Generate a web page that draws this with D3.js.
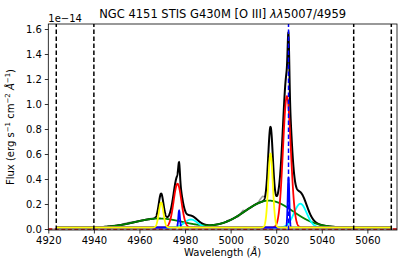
<!DOCTYPE html>
<html>
<head>
<meta charset="utf-8">
<script src="https://cdn.jsdelivr.net/npm/d3@7"></script>
<style>
  body { margin: 0; background: #fff; }
  text { font-family: "DejaVu Sans", sans-serif; fill: #000; }
</style>
</head>
<body>
<div id="chart"></div>
<script>
// fit window and axis ticks
var xTicks = [4920, 4940, 4960, 4980, 5000, 5020, 5040, 5060],
    yTicks = [0, 0.2, 0.4, 0.6, 0.8, 1.0, 1.2, 1.4, 1.6],
    fitRange = [4923.5, 5070.5],
    windowLines = [4923.5, 4940, 5054, 5070.5],
    peakLine = 5025.4,
    continuum = 0.012;

// gaussian components (centre, amplitude in 1e-14, sigma in A)
// drawn in this order, yellow ends on top
var compNames   = ['green', 'cyan', 'red', 'blue', 'yellow'];
var compColors  = ['#008000', '#00ffff', '#ff0000', '#0000ff', '#ffff00'];
var center5007  = [5016.8, 5030.6, 5024.7, 5025.4, 5017.5];
var amp5007     = [0.215, 0.19, 1.05, 0.40, 0.59];
var center4959  = [4968.6, 4982.6, 4976.7, 4977.4, 4969.5];
var amp4959     = [0.072, 0.064, 0.35, 0.135, 0.20];
var sigmas      = [10.5, 2.8, 1.7, 0.35, 1.0];

// visible bits of the observed spectrum (grey), null = hidden under model
var dataWave = [4946, 4948, 4950, 4952, 4954, 4956, 4958, 4960, 4962, 4964, 4965.5, null,
                4998, 5000, 5002, 5003.5, 5004.5, 5005.5, 5006.5, 5007.5, 5009, 5010.5, 5012, 5013, 5014, 5015];
var dataFlux = [0.022, 0.027, 0.031, 0.036, 0.046, 0.055, 0.060, 0.067, 0.073, 0.080, 0.086, null,
                0.064, 0.075, 0.090, 0.100, 0.128, 0.150, 0.146, 0.162, 0.172, 0.195, 0.210, 0.238, 0.262, 0.258];

var width = 407, height = 271,
    margin = {top: 24, right: 10, bottom: 41, left: 48.3};

var svg = d3.select('#chart').append('svg')
    .attr('width', width)
    .attr('height', height);

var x = d3.scaleLinear().domain([4920, 5073]).range([margin.left, width - margin.right]);
var y = d3.scaleLinear().domain([-0.008, 1.64]).range([height - margin.bottom, margin.top]);

svg.append('clipPath').attr('id', 'clip')
    .append('rect')
    .attr('x', x.range()[0]).attr('y', y.range()[1])
    .attr('width', x.range()[1] - x.range()[0])
    .attr('height', y.range()[0] - y.range()[1]);

var plot = svg.append('g').attr('clip-path', 'url(#clip)');

function gauss(w, c, a, s) {
    return a * Math.exp(-(w - c) * (w - c) / (2 * s * s));
}

var grid = d3.range(fitRange[0], fitRange[1] + 0.001, 0.05);

function compValue(i, w) {
    return continuum + gauss(w, center5007[i], amp5007[i], sigmas[i]) + gauss(w, center4959[i], amp4959[i], sigmas[i]);
}
function totalValue(w) {
    var t = continuum;
    compNames.forEach(function (n, i) {
        t += gauss(w, center5007[i], amp5007[i], sigmas[i]) + gauss(w, center4959[i], amp4959[i], sigmas[i]);
    });
    return t;
}

var line = d3.line()
    .x(function (d) { return x(d[0]); })
    .y(function (d) { return y(d[1]); });

// zero line
plot.append('line')
    .attr('x1', x.range()[0]).attr('x2', x.range()[1])
    .attr('y1', y(0)).attr('y2', y(0))
    .style('stroke', '#aaaaaa').style('stroke-width', 1.5);
plot.append('line')
    .attr('x1', x.range()[0]).attr('x2', x.range()[1])
    .attr('y1', y(0)).attr('y2', y(0))
    .style('stroke', '#cc0000').style('stroke-width', 1.5)
    .style('stroke-dasharray', '4,2.5');

// observed data
var dataPts = dataWave.map(function (w, i) { return [w, dataFlux[i]]; });
plot.append('path')
    .datum(dataPts)
    .attr('d', d3.line()
        .defined(function (d) { return d[0] !== null; })
        .x(function (d) { return x(d[0]); })
        .y(function (d) { return y(d[1]); }))
    .style('fill', 'none')
    .style('stroke', '#a0a0a0')
    .style('stroke-width', 1.5);

// total model
plot.append('path')
    .datum(grid.map(function (w) { return [w, totalValue(w)]; }))
    .attr('d', line)
    .style('fill', 'none')
    .style('stroke', '#000')
    .style('stroke-width', 2);

// components
compNames.forEach(function (n, i) {
    plot.append('path')
        .datum(grid.map(function (w) { return [w, compValue(i, w)]; }))
        .attr('class', 'comp ' + n)
        .attr('d', line)
        .style('fill', 'none')
        .style('stroke', compColors[i])
        .style('stroke-width', 1.8);
});

// fit window markers
plot.selectAll('.win')
    .data(windowLines)
    .enter().append('line')
    .attr('class', 'win')
    .attr('x1', function (d) { return x(d); })
    .attr('x2', function (d) { return x(d); })
    .attr('y1', y.range()[0]).attr('y2', y.range()[1])
    .style('stroke', '#000')
    .style('stroke-width', 1.5)
    .style('stroke-dasharray', '4.5,2.5');

plot.append('line')
    .attr('x1', x(peakLine)).attr('x2', x(peakLine))
    .attr('y1', y.range()[0]).attr('y2', y.range()[1])
    .style('stroke', '#0000ff')
    .style('stroke-width', 1.5)
    .style('stroke-dasharray', '4.5,2.5');

// axes
var xAxis = d3.axisBottom(x).tickValues(xTicks).tickSize(3.5).tickPadding(3).tickFormat(d3.format('d'));
var yAxis = d3.axisLeft(y).tickValues(yTicks).tickSize(3.5).tickPadding(3).tickFormat(d3.format('.1f'));

var gx = svg.append('g')
    .attr('transform', 'translate(0,' + y.range()[0] + ')')
    .call(xAxis);
var gy = svg.append('g')
    .attr('transform', 'translate(' + x.range()[0] + ',0)')
    .call(yAxis);
[gx, gy].forEach(function (g) {
    g.select('.domain').remove();
    g.selectAll('line').style('stroke', '#000').style('stroke-width', 0.8);
    g.selectAll('text').style('font-size', '10px').style('font-family', '"DejaVu Sans", sans-serif');
});

svg.append('rect')
    .attr('x', x.range()[0]).attr('y', y.range()[1])
    .attr('width', x.range()[1] - x.range()[0])
    .attr('height', y.range()[0] - y.range()[1])
    .style('fill', 'none').style('stroke', '#000').style('stroke-width', 0.8);

// offset text
svg.append('text')
    .attr('x', x.range()[0]).attr('y', 21.5)
    .style('font-size', '10px')
    .text('1e\u221214');

// title
var title = svg.append('text')
    .attr('x', (x.range()[0] + x.range()[1]) / 2)
    .attr('y', 17.5)
    .attr('text-anchor', 'middle')
    .style('font-size', '11.5px');
title.append('tspan').text('NGC 4151 STIS G430M [O III] ');
title.append('tspan').style('font-style', 'italic').text('\u03bb\u03bb');
title.append('tspan').text('5007/4959');

// x label
var xl = svg.append('text')
    .attr('x', (x.range()[0] + x.range()[1]) / 2)
    .attr('y', 256)
    .attr('text-anchor', 'middle')
    .style('font-size', '10px');
xl.append('tspan').text('Wavelength (');
xl.append('tspan').style('font-style', 'italic').text('\u00c5');
xl.append('tspan').text(')');

// y label
var yl = svg.append('text')
    .attr('transform', 'translate(14,' + ((y.range()[0] + y.range()[1]) / 2) + ') rotate(-90)')
    .attr('text-anchor', 'middle')
    .style('font-size', '10px');
yl.append('tspan').text('Flux (erg s');
yl.append('tspan').attr('dy', -4).style('font-size', '7px').text('\u22121');
yl.append('tspan').attr('dy', 4).text(' cm');
yl.append('tspan').attr('dy', -4).style('font-size', '7px').text('\u22122');
yl.append('tspan').attr('dy', 4).text(' ');
yl.append('tspan').style('font-style', 'italic').text('\u00c5');
yl.append('tspan').attr('dy', -4).style('font-size', '7px').text('\u22121');
yl.append('tspan').attr('dy', 4).text(')');
</script>
</body>
</html>
